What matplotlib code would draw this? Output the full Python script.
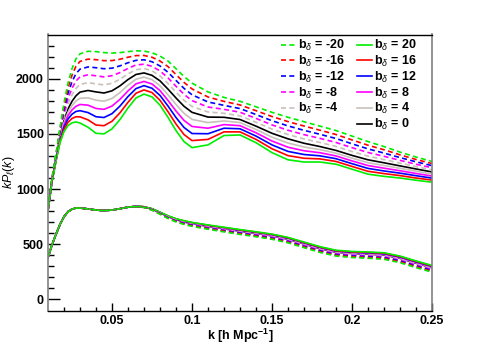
import matplotlib
matplotlib.use('Agg')
import matplotlib.pyplot as plt
from matplotlib.lines import Line2D

plt.rcParams['font.family'] = ['Liberation Sans', 'DejaVu Sans']
plt.rcParams['mathtext.fontset'] = 'custom'
plt.rcParams['mathtext.rm'] = 'Liberation Sans'
plt.rcParams['mathtext.it'] = 'Liberation Sans:italic'
plt.rcParams['mathtext.bf'] = 'Liberation Sans:bold'

# ---------------- data ----------------
k = [0.010, 0.0125, 0.015, 0.0175, 0.020, 0.0225, 0.025, 0.0275, 0.030,
     0.035, 0.040, 0.045, 0.050, 0.055, 0.060, 0.065, 0.070, 0.075, 0.080,
     0.085, 0.090, 0.095, 0.100, 0.110, 0.120, 0.130, 0.140, 0.150, 0.160,
     0.170, 0.180, 0.190, 0.200, 0.210, 0.220, 0.230, 0.240, 0.250]

# upper bundle, solid lines (b_delta >= 0)
up_p0 = [806, 1080, 1280, 1480, 1620, 1725, 1795, 1845, 1878, 1893, 1880, 1870, 1890, 1935, 1992,
         2038, 2052, 2030, 1980, 1905, 1825, 1750, 1695, 1652, 1650, 1630, 1570, 1505, 1455, 1415,
         1385, 1350, 1305, 1265, 1238, 1210, 1182, 1155]
up_p4 = [805, 1077, 1274, 1468, 1600, 1695, 1756, 1798, 1822, 1826, 1805, 1796, 1821, 1874, 1941,
         1995, 2014, 1991, 1936, 1854, 1766, 1686, 1631, 1602, 1617, 1602, 1540, 1470, 1417, 1381,
         1357, 1325, 1280, 1239, 1213, 1188, 1162, 1136]
up_p8 = [804, 1074, 1268, 1456, 1580, 1665, 1717, 1750, 1766, 1760, 1730, 1722, 1752, 1813, 1889,
         1953, 1975, 1952, 1892, 1803, 1707, 1622, 1567, 1551, 1584, 1574, 1510, 1435, 1379, 1347,
         1329, 1300, 1255, 1213, 1189, 1166, 1141, 1118]
up_p12 = [802, 1071, 1262, 1444, 1560, 1635, 1678, 1703, 1710, 1693, 1655, 1648, 1683, 1752, 1838,
          1910, 1937, 1913, 1848, 1752, 1648, 1558, 1503, 1501, 1551, 1546, 1480, 1400, 1341, 1313,
          1301, 1275, 1230, 1187, 1164, 1144, 1121, 1099]
up_p16 = [801, 1068, 1256, 1432, 1540, 1605, 1639, 1655, 1654, 1627, 1580, 1574, 1614, 1691, 1786,
          1868, 1898, 1874, 1804, 1701, 1589, 1494, 1439, 1450, 1518, 1518, 1450, 1365, 1303, 1279,
          1273, 1250, 1205, 1161, 1140, 1122, 1100, 1081]
up_p20 = [800, 1065, 1250, 1420, 1520, 1575, 1600, 1608, 1598, 1560, 1505, 1500, 1545, 1630, 1735,
          1825, 1860, 1835, 1760, 1650, 1530, 1430, 1375, 1400, 1485, 1490, 1420, 1330, 1265, 1245,
          1245, 1225, 1180, 1135, 1115, 1100, 1080, 1062]

# upper bundle, dashed lines (b_delta < 0)
up_m4 = [808, 1084, 1288, 1496, 1652, 1772, 1854, 1912, 1947, 1964, 1953, 1943, 1958, 1995, 2043,
         2081, 2092, 2071, 2025, 1956, 1878, 1804, 1748, 1698, 1686, 1663, 1605, 1543, 1494, 1454,
         1422, 1386, 1340, 1298, 1267, 1235, 1204, 1174]
up_m8 = [810, 1088, 1296, 1512, 1684, 1819, 1913, 1979, 2017, 2035, 2026, 2016, 2027, 2055, 2093,
         2124, 2131, 2112, 2070, 2007, 1931, 1858, 1801, 1743, 1722, 1696, 1640, 1581, 1533, 1493,
         1459, 1422, 1375, 1331, 1297, 1260, 1225, 1193]
up_m12 = [811, 1092, 1304, 1528, 1716, 1866, 1972, 2046, 2086, 2106, 2099, 2090, 2095, 2116, 2144,
          2166, 2171, 2153, 2115, 2058, 1984, 1912, 1854, 1789, 1758, 1729, 1675, 1619, 1572, 1532,
          1496, 1458, 1410, 1364, 1326, 1285, 1247, 1212]
up_m16 = [813, 1096, 1312, 1544, 1748, 1913, 2031, 2113, 2156, 2177, 2172, 2163, 2164, 2176, 2194,
          2209, 2210, 2194, 2160, 2109, 2037, 1966, 1907, 1834, 1794, 1762, 1710, 1657, 1611, 1571,
          1533, 1494, 1445, 1397, 1356, 1310, 1268, 1231]
up_m20 = [815, 1100, 1320, 1560, 1780, 1960, 2090, 2180, 2225, 2248, 2245, 2236, 2232, 2236, 2245,
          2252, 2250, 2235, 2205, 2160, 2090, 2020, 1960, 1880, 1830, 1795, 1745, 1695, 1650, 1610,
          1570, 1530, 1480, 1430, 1385, 1335, 1290, 1250]

# lower bundle: all curves coincide up to k = 0.06
lo_head = [380, 495, 590, 680, 750, 795, 818, 828, 828, 820, 810, 805, 810, 822, 836]
lo_p0 = lo_head + [843, 838, 818, 785, 750, 722, 702, 686, 662, 640, 618, 598, 576, 545, 502,
                   460, 428, 416, 410, 402, 372, 328, 287]
lo_p4 = lo_head + [843, 838, 819, 786, 752, 724, 704, 688, 665, 643, 621, 601, 579, 548, 506,
                   464, 432, 420, 414, 406, 376, 332, 291]
lo_p8 = lo_head + [843, 839, 820, 787, 753, 726, 706, 691, 667, 646, 624, 604, 582, 552, 509,
                   467, 435, 424, 418, 410, 380, 336, 295]
lo_p12 = lo_head + [844, 839, 820, 789, 755, 728, 709, 693, 670, 648, 627, 607, 586, 555, 513,
                    471, 439, 427, 422, 415, 385, 341, 300]
lo_p16 = lo_head + [844, 840, 821, 790, 756, 730, 711, 696, 672, 651, 630, 610, 589, 559, 516,
                    474, 442, 431, 426, 419, 389, 345, 304]
lo_p20 = lo_head + [844, 840, 822, 791, 758, 732, 713, 698, 675, 654, 633, 613, 592, 562, 520,
                    478, 446, 435, 430, 423, 393, 349, 308]
lo_m4 = lo_head + [843, 837, 816, 782, 747, 718, 698, 681, 657, 634, 612, 592, 570, 539, 495,
                   453, 421, 409, 403, 394, 364, 320, 279]
lo_m8 = lo_head + [842, 836, 814, 780, 743, 714, 693, 676, 652, 629, 606, 586, 564, 532, 489,
                   446, 414, 402, 395, 387, 356, 312, 271]
lo_m12 = lo_head + [842, 835, 813, 777, 740, 710, 689, 672, 646, 623, 601, 580, 557, 526, 482,
                    440, 407, 394, 388, 379, 349, 304, 263]
lo_m16 = lo_head + [841, 834, 811, 775, 736, 706, 684, 667, 641, 618, 595, 574, 551, 519, 476,
                    433, 400, 387, 380, 372, 341, 296, 255]
lo_m20 = lo_head + [841, 833, 809, 772, 733, 702, 680, 662, 636, 612, 589, 568, 545, 513, 469,
                    426, 393, 380, 373, 364, 333, 288, 247]

solid_b = [0, 4, 8, 12, 16, 20]
dashed_b = [-4, -8, -12, -16, -20]
upper = {0: up_p0, 4: up_p4, 8: up_p8, 12: up_p12, 16: up_p16, 20: up_p20,
         -4: up_m4, -8: up_m8, -12: up_m12, -16: up_m16, -20: up_m20}
lower = {0: lo_p0, 4: lo_p4, 8: lo_p8, 12: lo_p12, 16: lo_p16, 20: lo_p20,
         -4: lo_m4, -8: lo_m8, -12: lo_m12, -16: lo_m16, -20: lo_m20}
colors = {0: 'black', 4: '#c8c0ba', 8: '#ff00ff', 12: '#0000ff', 16: '#ff0000', 20: '#00ee00'}

# ---------------- plot ----------------
fig = plt.figure(figsize=(4.8, 3.45), dpi=100)
ax = fig.add_axes([0.1, 0.1, 0.8, 0.8])

lw = 1.2
dash = (0, (3, 2))
for b in solid_b:
    ax.plot(k, upper[b], color=colors[b], lw=lw)
    ax.plot(k, lower[b], color=colors[b], lw=lw)
for b in dashed_b:
    ax.plot(k, upper[b], color=colors[-b], lw=lw, linestyle=dash)
    ax.plot(k, lower[b], color=colors[-b], lw=lw, linestyle=dash)

ax.set_xlim(0.01, 0.25)
ax.set_ylim(-100, 2400)
ax.set_xticks([0.05, 0.1, 0.15, 0.2, 0.25])
ax.set_xticklabels(['0.05', '0.1', '0.15', '0.2', '0.25'])
ax.set_xticks([x / 100 for x in range(2, 26)], minor=True)
ax.set_yticks([0, 500, 1000, 1500, 2000])
ax.set_yticks(range(0, 2400, 100), minor=True)

ax.tick_params(axis='both', which='both', direction='in', top=False, right=False,
               labelsize=9, width=1)
ax.tick_params(axis='y', which='major', length=8.3, pad=3)
ax.tick_params(axis='y', which='minor', length=4.1)
ax.tick_params(axis='x', which='major', length=6, pad=3)
ax.tick_params(axis='x', which='minor', length=3)
for lab in ax.get_xticklabels() + ax.get_yticklabels():
    lab.set_fontweight('bold')

for s in ['left', 'right']:
    ax.spines[s].set_color('#808080')
    ax.spines[s].set_linewidth(1.2)
for s in ['top', 'bottom']:
    ax.spines[s].set_color('black')
    ax.spines[s].set_linewidth(1)

ax.set_xlabel(r'k [h Mpc$^{\mathbf{-1}}$]', fontsize=9, fontweight='bold', va='top')
ax.xaxis.set_label_coords(0.5, -0.058)
ax.set_ylabel(r'$kP_{\ell}(k)$', fontsize=9)
ax.yaxis.set_label_coords(-0.081, 0.5)

# legends: dashed column on the left, solid column on the right
h_d = [Line2D([], [], color=colors[-b], lw=lw, linestyle=dash) for b in [-20, -16, -12, -8, -4]]
l_d = [r'$\mathbf{b}_{\delta}$ = %d' % b for b in [-20, -16, -12, -8, -4]]
h_s = [Line2D([], [], color=colors[b], lw=lw) for b in [20, 16, 12, 8, 4, 0]]
l_s = [r'$\mathbf{b}_{\delta}$ = %d' % b for b in [20, 16, 12, 8, 4, 0]]

common = dict(frameon=False, handlelength=1.2, handletextpad=0.15,
              labelspacing=0.06, borderpad=0, borderaxespad=0, loc='upper left',
              prop={'weight': 'bold', 'size': 9})
leg1 = ax.legend(h_d, l_d, bbox_to_anchor=(281 / 480, 1 - 38 / 345),
                 bbox_transform=fig.transFigure, **common)
ax.add_artist(leg1)
leg2 = ax.legend(h_s, l_s, bbox_to_anchor=(357 / 480, 1 - 38 / 345),
                 bbox_transform=fig.transFigure, **common)

fig.savefig('out.png', dpi=100)
plt.close(fig)
